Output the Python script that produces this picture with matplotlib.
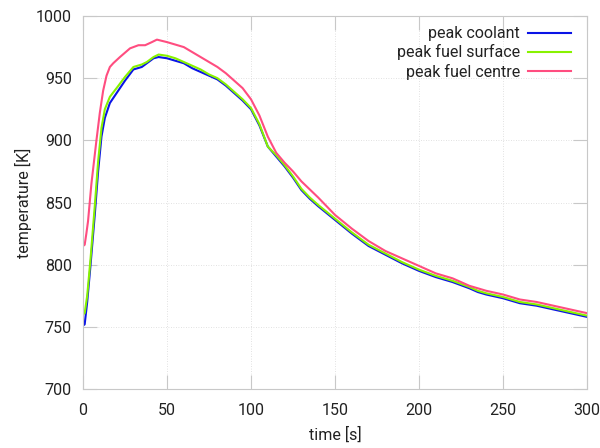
import matplotlib
matplotlib.use("Agg")
import matplotlib.pyplot as plt
import numpy as np

t_cool = [0, 1, 2.5, 4.5, 7, 9, 11, 13, 16, 20, 25, 30, 35, 38, 42, 45, 50, 55, 60, 65, 70, 75, 80, 85, 90, 95, 100, 105, 110, 115, 120, 125, 130, 135, 140, 150, 160, 170, 180, 190, 200, 210, 220, 230, 235, 240, 250, 260, 270, 280, 290, 300]
coolant = [751, 752, 770, 800, 840, 875, 903, 918, 930, 938, 948, 957, 959, 962, 966, 967, 966, 964, 962, 958, 955, 952, 949, 944, 938, 932, 925, 912, 895, 887, 879, 870, 860, 853, 847, 836, 825, 815, 808, 801, 795, 790, 786, 781, 778, 776, 773, 769, 767, 764, 761, 758]
fuel_surface = [760, 761, 775, 805, 847, 883, 910, 925, 935, 942, 951, 959, 961, 963, 967, 969, 968, 966, 963, 960, 957, 953, 950, 945, 939, 933, 926, 913, 895, 888, 880, 871, 861, 854, 848, 837, 826, 816, 809, 802, 796, 791, 787, 782, 779, 777, 774, 770, 768, 765, 762, 759]

t_centre = [0, 1, 2, 3, 5, 8, 10, 12, 14, 16, 18, 22, 28, 33, 37, 41, 44, 50, 55, 60, 65, 70, 75, 80, 85, 90, 95, 100, 105, 110, 115, 120, 125, 130, 140, 150, 160, 170, 180, 190, 200, 210, 220, 230, 235, 240, 250, 260, 270, 280, 290, 300]
fuel_centre = [815, 816, 825, 835, 865, 900, 922, 940, 952, 959, 962, 967, 974, 976.5, 976.5, 979, 981, 979, 977, 975, 971, 967, 963, 959, 954, 948, 942, 933, 920, 903, 890, 882, 875, 867, 854, 840, 829, 819, 811, 805, 799, 793, 789, 783, 781, 779, 776, 772, 770, 767, 764, 761]

labels = ["peak coolant", "peak fuel surface", "peak fuel centre"]
colors = ["#0a14e6", "#88f200", "#ff4d80"]

plt.rcParams['font.family'] = ['Roboto', 'DejaVu Sans']
fig = plt.figure(figsize=(6, 4.48), dpi=100)
ax = fig.add_axes([83/600, 1-389/448, 504/600, 373/448])

ax.plot(t_cool, coolant, color=colors[0], lw=1.5, label=labels[0])
ax.plot(t_cool, fuel_surface, color=colors[1], lw=1.5, label=labels[1])
ax.plot(t_centre, fuel_centre, color=colors[2], lw=1.5, label=labels[2])

ax.set_xlim(0, 300)
ax.set_ylim(700, 1000)
ax.set_xticks([0, 50, 100, 150, 200, 250, 300])
ax.set_yticks([700, 750, 800, 850, 900, 950, 1000])
ax.grid(True, color='#d8d8d8', linestyle=(0, (1, 2)), linewidth=0.6)
for s in ax.spines.values():
    s.set_color('#c8c8c8')
ax.tick_params(axis='both', direction='in', length=10, width=0.8, color='#c8c8c8', top=True, right=True,
               labelsize=11.5, labelcolor='#222222')
ax.tick_params(axis='x', pad=10)
ax.tick_params(axis='y', pad=8)
ax.set_xlabel('time [s]', fontsize=11.5, color='#222222', labelpad=6)
ax.set_ylabel('temperature [K]', fontsize=11.5, color='#222222', labelpad=3)

leg = ax.legend(loc='upper right', bbox_to_anchor=(0.981, 0.99), frameon=False, markerfirst=False,
                fontsize=11.5, handlelength=2.7, labelspacing=0.2, handletextpad=0.5,
                borderaxespad=0)
for tx in leg.get_texts():
    tx.set_color('#222222')
    tx.set_ha('right')
leg._legend_box.align = 'right'

fig.savefig('out.png', dpi=100)
